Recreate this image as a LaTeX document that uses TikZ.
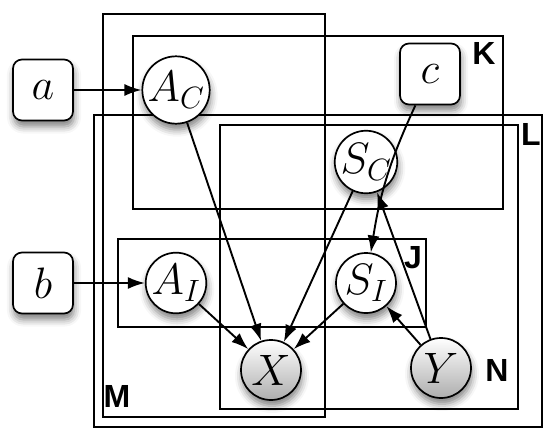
\RequirePackage{fix-cm}
\documentclass[tikz,border=0pt]{standalone}
\usepackage{fontspec}
\newfontfamily\lblfont{Liberation Sans}[BoldFont={Liberation Sans Bold}]
\usetikzlibrary{arrows.meta,shadows.blur}
\tikzset{
  plate/.style={draw, line width=2pt},
  platelabel/.style={font=\lblfont\bfseries\fontsize{32}{32}\selectfont, inner sep=0pt},
  nodeshadow/.style={blur shadow={shadow xshift=1pt, shadow yshift=-6pt, shadow blur radius=7pt, shadow opacity=50}},
  param/.style={draw, fill=white, rounded corners=9pt, minimum width=60pt, minimum height=61pt, line width=1.7pt, nodeshadow, font=\fontsize{44}{46}\selectfont},
  var/.style={circle, draw, fill=white, minimum size=60pt, inner sep=0pt, line width=1.7pt, nodeshadow, font=\fontsize{44}{46}\selectfont},
  obs/.style={var, top color=white, bottom color=black!32},
  edge/.style={-{Latex[length=17pt,width=12pt]}, line width=1.9pt}
}
\begin{document}
\begin{tikzpicture}[x=1pt,y=-1pt]
\useasboundingbox (0,0) rectangle (557,444);
% plates
\draw[plate] (103,14) rectangle (325,417);
\draw[plate] (133,36) rectangle (503,209);
\draw[plate] (94,115) rectangle (542,427);
\draw[plate] (220,125) rectangle (518,409);
\draw[plate] (118,239) rectangle (426,327);
\node[platelabel] (lK) at (484,53) {K};
\node[platelabel] (lL) at (531,134) {L};
\node[platelabel] (lJ) at (413,258) {J};
\node[platelabel] (lN) at (497,370) {N};
\node[platelabel] (lM) at (117,396) {M};
% nodes
\node[param] (a) at (43,90) {$a$};
\node[param] (b) at (43,283) {$b$};
\node[param] (c) at (430,74) {$c$};
\node[var] (AC) at (176,90) {$A_C$};
\node[var] (AI) at (176,283) {$A_I$};
\node[var] (SC) at (366,162) {$S_C$};
\node[var] (SI) at (366,283) {$S_I$};
\node[obs] (X) at (271,370) {$X$};
\node[obs] (Y) at (441,368) {$Y$};
% edges
\draw[edge] (a) -- (AC);
\draw[edge] (b) -- (AI);
\draw[edge] (AC) -- (X);
\draw[edge] (AI) -- (X);
\draw[edge] (SC) -- (X);
\draw[edge] (SI) -- (X);
\draw[edge] (c) to[bend right=8] (SI);
\draw[edge] (Y) -- (SI);
\draw[edge] (Y.110) -- (SC);
\end{tikzpicture}
\end{document}
